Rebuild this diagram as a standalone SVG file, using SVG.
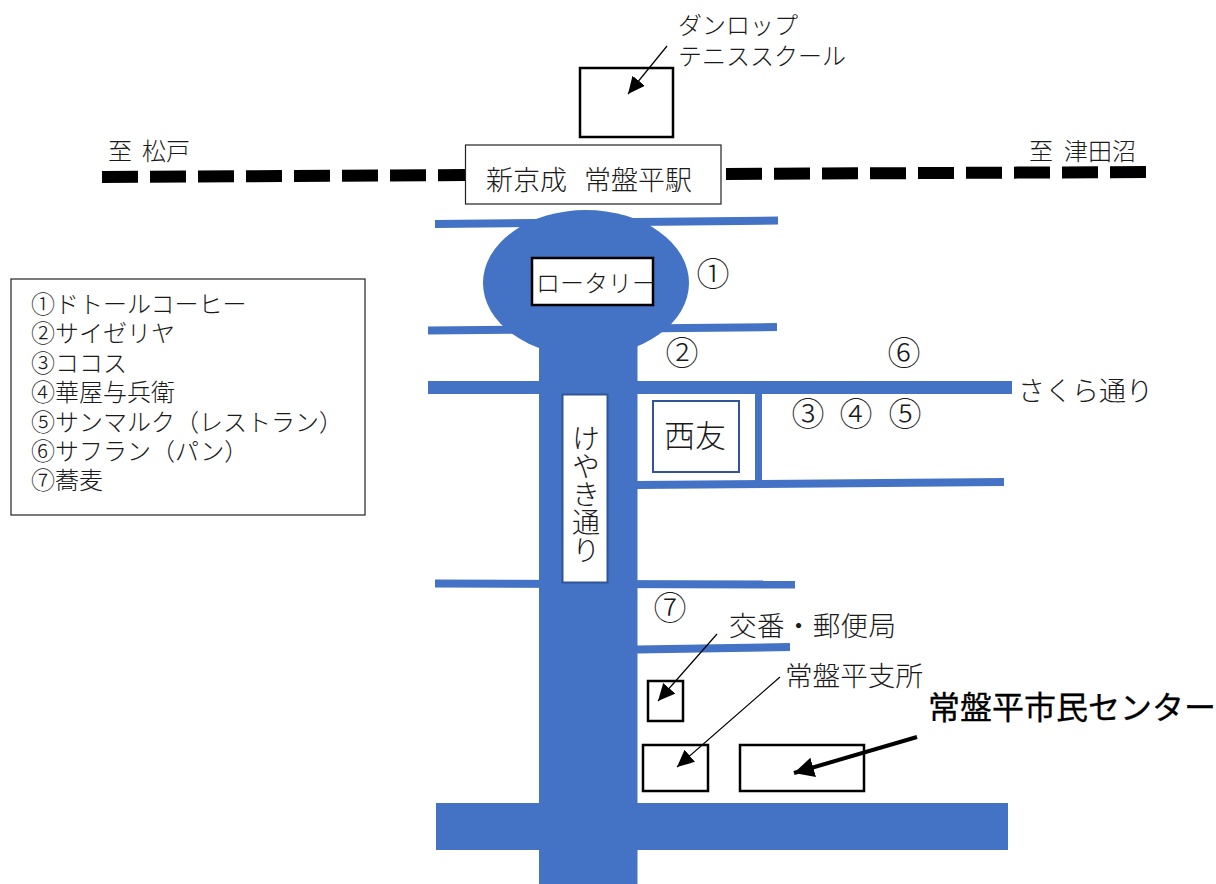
<svg xmlns="http://www.w3.org/2000/svg" width="1216" height="884" viewBox="0 0 1216 884" lang="ja">
<style>
text{font-family:"Noto Sans CJK JP","Noto Sans CJK SC",sans-serif;font-weight:300;fill:#1a1a1a}
.road{stroke:#4472c4;fill:none}
.box{fill:#fff;stroke:#000;stroke-width:2.5}
.thin{fill:#fff;stroke:#222;stroke-width:1.2}
.rail{stroke:#000;stroke-width:12;stroke-dasharray:36 12;fill:none}
.leg{font-size:24px}
.num{font-size:33px;text-anchor:middle}
.l24{font-size:24px}
.l27{font-size:27.6px}
</style>
<defs>
<marker id="ah" markerUnits="userSpaceOnUse" markerWidth="18" markerHeight="18" refX="17" refY="8" orient="auto"><path d="M0 0L17 8L0 16Z" fill="#000"/></marker>
<marker id="ahb" markerUnits="userSpaceOnUse" markerWidth="22" markerHeight="22" refX="20" refY="10" orient="auto"><path d="M0 0L20 10L0 20Z" fill="#000"/></marker>
</defs>
<g id="roads">
<path class="road" stroke-width="8" d="M435 224L778 220.5"/>
<path class="road" stroke-width="8" d="M428 330.500L777 327"/>
<path class="road" stroke-width="13" d="M428 387.500H1012"/>
<path class="road" stroke-width="7" d="M758.500 390V482"/>
<path class="road" stroke-width="8" d="M637 485L1004 482"/>
<path class="road" stroke-width="8" d="M435 583.500L795 584.500"/>
<path class="road" stroke-width="8" d="M637 649.500L790 647"/>
<ellipse cx="586" cy="283" rx="103" ry="73" fill="#4472c4"/>
<rect x="539" y="340" width="98.500" height="544" fill="#4472c4"/>
<rect x="436" y="803" width="572" height="47" fill="#4472c4"/>
</g>
<g id="rail">
<path class="rail" d="M102 177L465 175"/>
<path class="rail" d="M726 174L1146 172"/>
</g>
<g id="dunlop"><rect class="box" x="580" y="68" width="93" height="69"/><text class="l24"><tspan x="678" y="34">ダンロップ</tspan><tspan x="678" y="65">テニススクール</tspan></text></g>
<g id="station"><rect class="thin" x="465.500" y="145" width="255.500" height="59"/><text x="486" y="190" font-size="27">新京成<tspan x="584">常盤平駅</tspan></text></g>
<g id="rotary"><rect class="box" x="532" y="258" width="121" height="47"/><text x="536" y="292" font-size="24">ロータリー</text></g>
<g id="keyaki"><rect x="562.500" y="394.500" width="45" height="188" fill="#fff" stroke="#2f5597" stroke-width="2"/><text x="586" y="424" font-size="28" style="writing-mode:vertical-rl;text-orientation:upright" text-anchor="start">けやき通り</text></g>
<g id="seiyu"><rect x="653" y="401" width="86" height="71" fill="#fff" stroke="#2f5597" stroke-width="2"/><text x="664" y="447" font-size="31">西友</text></g>
<g id="koban"><rect class="box" x="648" y="681" width="35" height="40"/><text class="l27" x="729" y="636" textLength="167">交番・郵便局</text></g>
<g id="shisho"><rect class="box" x="643" y="745" width="65" height="46"/><text class="l27" x="785" y="686">常盤平支所</text></g>
<g id="center"><rect class="box" x="740" y="745" width="124" height="46"/><text x="928" y="719" font-size="32" style="font-weight:400;fill:#000;stroke:#000;stroke-width:.3">常盤平市民センター</text></g>
<g id="connectors" fill="none" stroke="#000">
<path stroke-width="1.200" marker-end="url(#ah)" d="M667 46L628 94"/>
<path stroke-width="1.200" marker-end="url(#ah)" d="M717 634L658 701"/>
<path stroke-width="1.200" marker-end="url(#ah)" d="M780 677L677 767"/>
<path stroke-width="4" marker-end="url(#ahb)" d="M917 737L794 773"/>
</g>
<g id="legend"><rect class="thin" x="11" y="279" width="354" height="236"/>
<text class="leg"><tspan x="31" y="313">①ドトールコーヒー</tspan><tspan x="31" y="342">②サイゼリヤ</tspan><tspan x="31" y="372">③ココス</tspan><tspan x="31" y="401">④華屋与兵衛</tspan><tspan x="31" y="431">⑤サンマルク（レストラン）</tspan><tspan x="31" y="460">⑥サフラン（パン）</tspan><tspan x="31" y="489">⑦蕎麦</tspan></text>
</g>
<g id="labels">
<text class="l24" x="108" y="160">至<tspan x="142">松戸</tspan></text>
<text class="l24" x="1029" y="160">至<tspan x="1064">津田沼</tspan></text>
<text x="1018" y="401" font-size="27">さくら通り</text>
<text class="num" x="713" y="286">①</text>
<text class="num" x="682" y="365">②</text>
<text class="num" x="904" y="365">⑥</text>
<text class="num" x="808" y="426">③</text>
<text class="num" x="856" y="426">④</text>
<text class="num" x="905" y="426">⑤</text>
<text class="num" x="670" y="620">⑦</text>
</g>
</svg>
